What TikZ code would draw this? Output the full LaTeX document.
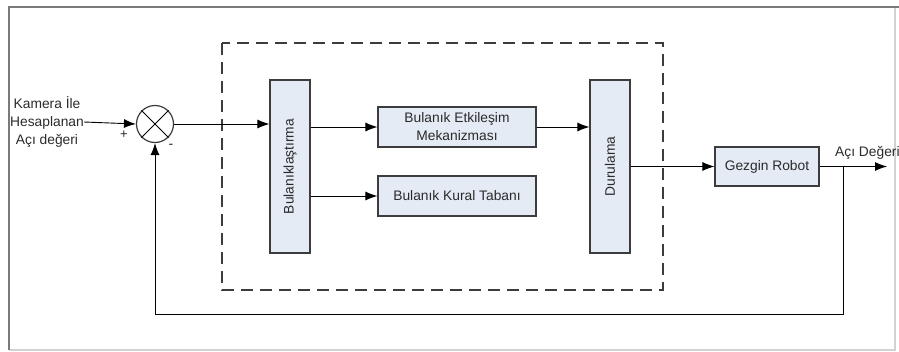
\documentclass[tikz,border=0pt]{standalone}
\usepackage{fontspec}
\setmainfont{Liberation Sans}
\usetikzlibrary{positioning, arrows.meta}
\definecolor{BoxFill}  {HTML}{E4EBF5}
\definecolor{BoxLine}  {HTML}{3C3C3C}
\definecolor{FrameDark}{HTML}{7A7A7A}
\definecolor{FrameLite}{HTML}{D2D2D2}
\definecolor{TxtMain}  {HTML}{2A2A2A}

\tikzset{
  blockbox/.style={fill=BoxFill, draw=BoxLine, line width=1.2pt,
                   inner sep=0pt, align=center, text=TxtMain,
                   font=\fontsize{13.8}{18}\selectfont},
  sig/.style={line width=0.9pt, -{Latex[length=12pt,width=9pt]}},
  wire/.style={line width=1pt},
  lbl/.style={inner sep=0pt, align=center, text=TxtMain,
              font=\fontsize{13.8}{18}\selectfont}
}

\begin{document}
\begin{tikzpicture}[x=1pt, y=-1pt]
  \useasboundingbox (0,0) rectangle (899,351);

  % ── frame ──
  \draw[FrameLite, line width=1.5pt] (895,7) -- (895,350) -- (9,350);
  \draw[FrameDark, line width=2pt] (9,350) -- (9,7) -- (899,7);

  % ── fuzzy controller (dashed) ──
  \draw[BoxLine, line width=1.3pt, dash pattern=on 12pt off 7pt]
    (222,43) rectangle (663,290);

  % ── input and summing point ──
  \node[lbl] (cam) at (47,122) {Kamera İle\\Hesaplanan\\Açı değeri};
  \node[circle, draw=BoxLine, line width=1.2pt, minimum size=37pt,
        inner sep=0pt] (sum) at (155,124) {};
  \draw[wire] (sum.north west) -- (sum.south east);
  \draw[wire] (sum.north east) -- (sum.south west);
  \node[lbl, font=\fontsize{13}{14}\selectfont] (plus) at (124,135) {+};
  \node[lbl, font=\fontsize{14}{14}\selectfont] (minus) at (171,146) {-};

  % ── blocks ──
  \node[blockbox, minimum width=40pt, minimum height=173pt] (fuzz) at (290,166.5)
    {\rotatebox{90}{Bulanıklaştırma}};
  \node[blockbox, minimum width=158pt, minimum height=40pt] (infer) at (457,127)
    {Bulanık Etkileşim\\Mekanizması};
  \node[blockbox, minimum width=158pt, minimum height=40pt] (rules) at (457,196)
    {Bulanık Kural Tabanı};
  \node[blockbox, minimum width=40pt, minimum height=173pt] (defuzz) at (610,166.5)
    {\rotatebox{90}{Durulama}};
  \node[blockbox, minimum width=104pt, minimum height=39pt] (robot) at (767,166.5)
    {Gezgin Robot};

  % ── output ──
  \coordinate (out) at (887,166.5);
  \coordinate (tap) at (843,166.5);
  \coordinate (fb) at (155,314);
  \node[lbl, anchor=south west] (outlbl) at (835,160) {Açı Değeri};

  % ── connectors ──
  \draw[sig] (cam.east) -- (sum.west);
  \draw[sig] (sum.east) -- (sum.east -| fuzz.west);
  \draw[sig] (fuzz.east |- infer.west) -- (infer.west);
  \draw[sig] (fuzz.east |- rules.west) -- (rules.west);
  \draw[sig] (infer.east) -- (infer.east -| defuzz.west);
  \draw[sig] (defuzz.east) -- (robot.west);
  \draw[sig] (robot.east) -- (out);
  \draw[sig] (tap) |- (fb) -- (sum.south);
\end{tikzpicture}
\end{document}
